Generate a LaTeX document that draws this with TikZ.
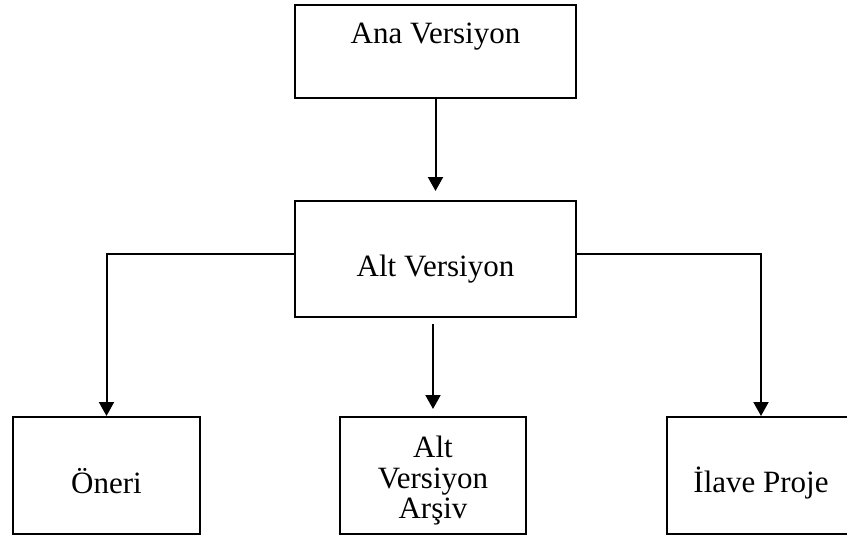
\documentclass[tikz,border=0pt]{standalone}
\usepackage{fontspec}
\setmainfont{Liberation Serif}
\usetikzlibrary{arrows.meta}
\tikzstyle{version_box}=[rectangle,
                          draw=black,
                          line width=2pt,
                          inner sep=0pt,
                          align=center,
                          font=\fontsize{31}{30.5}\selectfont ]
\tikzstyle{version_arrow}=[line width=2pt,
                            -{Triangle[width=15pt, length=14pt]} ]

\begin{document}
\begin{tikzpicture}[x=1pt, y=-1pt]
    \useasboundingbox (0, 0) rectangle (847, 538);
    \clip (0, 0) rectangle (847, 538);

    \node at (435.5, 51.5) (Ana) [version_box, minimum width=281pt, text height=38pt, text depth=55pt] {Ana Versiyon};
    \node at (435.5, 259) (Alt) [version_box, minimum width=281pt, text height=75pt, text depth=41pt] {Alt Versiyon};

    \node at (106.5, 475.5) (Oneri) [version_box, minimum width=187pt, text height=76pt, text depth=41pt] {Öneri};
    \node at (433, 475.5) (Arsiv) [version_box, minimum width=186pt, minimum height=117pt] {\rule{0pt}{32pt}Alt\\Versiyon\\Arşiv};
    \node at (761, 475.5) (Ilave) [version_box, minimum width=188pt, text height=75pt, text depth=42pt] {İlave Proje};

    \draw[version_arrow, shorten >=9pt] (Ana.south) -- (Alt.north);
    \draw[version_arrow] ([yshift=5pt]Alt.west) -| (Oneri.north);
    \draw[version_arrow] ([yshift=5pt]Alt.east) -| (Ilave.north);
    \draw[version_arrow, shorten <=6pt, shorten >=7pt] (Alt.south -| Arsiv.north) -- (Arsiv.north);
\end{tikzpicture}
\end{document}
